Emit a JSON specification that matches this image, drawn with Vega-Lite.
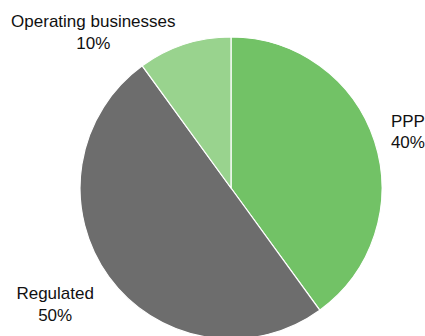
{
  "$schema": "https://vega.github.io/schema/vega-lite/v6.json",
  "width": 388,
  "height": 296,
  "autosize": "none",
  "padding": {"left": 37, "top": 40, "right": 0, "bottom": 0},
  "background": "white",
  "config": {"view": {"stroke": null}, "text": {"font": "Liberation Sans", "fontSize": 17, "color": "#111111"}},
  "data": {"values": [
    {"segment": "PPP", "share": 40, "rank": 1},
    {"segment": "Regulated", "share": 50, "rank": 2},
    {"segment": "Operating businesses", "share": 10, "rank": 3}
  ]},
  "transform": [{"calculate": "datum.segment + '\\n' + datum.share + '%'", "as": "label"}],
  "encoding": {
    "theta": {"field": "share", "type": "quantitative", "stack": true},
    "order": {"field": "rank", "type": "quantitative", "sort": "ascending"}
  },
  "layer": [
    {
      "mark": {"type": "arc", "outerRadius": 151, "stroke": "white", "strokeWidth": 1.2},
      "encoding": {
        "color": {"field": "segment", "type": "nominal", "legend": null,
          "scale": {"domain": ["PPP", "Regulated", "Operating businesses"], "range": ["#72c266", "#6d6d6d", "#99d38e"]}}
      }
    },
    {
      "mark": {"type": "text", "radius": 186, "dy": -9, "align": "center", "baseline": "middle", "lineBreak": "\n", "lineHeight": 21.5},
      "encoding": {"text": {"condition": {"test": "datum.segment === 'PPP'", "field": "label"}, "value": ""}}
    },
    {
      "mark": {"type": "text", "radius": 205, "dx": -10, "dy": -14, "align": "center", "baseline": "middle", "lineBreak": "\n", "lineHeight": 21.5},
      "encoding": {"text": {"condition": {"test": "datum.segment === 'Regulated'", "field": "label"}, "value": ""}}
    },
    {
      "mark": {"type": "text", "radius": 164, "dx": -87, "dy": -10, "align": "center", "baseline": "middle", "lineBreak": "\n", "lineHeight": 21.5},
      "encoding": {"text": {"condition": {"test": "datum.segment === 'Operating businesses'", "field": "label"}, "value": ""}}
    }
  ]
}
